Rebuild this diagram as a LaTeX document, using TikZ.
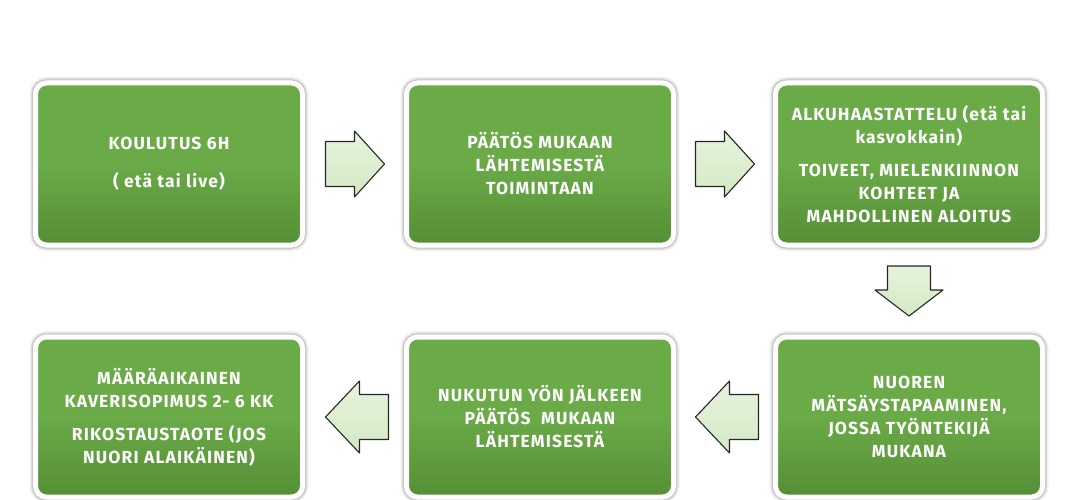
\documentclass[tikz,border=0pt]{standalone}
\usepackage{fontspec}
\setmainfont{Fira Sans}
\usetikzlibrary{calc}
\definecolor{boxgreen}{HTML}{6AAA47}
\definecolor{boxgreendark}{HTML}{558F36}
\definecolor{arrowfill}{HTML}{D3E9C4}
\definecolor{arrowlight}{HTML}{E6F3DD}
\tikzset{
  stepbox/.style={
    draw=white, line width=5pt, rounded corners=11pt,
    top color=boxgreen, bottom color=boxgreendark, middle color=boxgreen,
    minimum width=267pt, minimum height=162pt, inner sep=0pt,
    text=white, align=center,
    font=\fontsize{17.5}{23}\selectfont\bfseries\addfontfeature{LetterSpace=6.5},
    preaction={draw=black!6, line width=12pt},
    preaction={draw=black!14, line width=9pt},
    preaction={draw=black!22, line width=7pt}
  },
  blockarrow/.style={
    draw=black!85, line width=1.1pt, line join=round,
    top color=arrowlight, bottom color=arrowfill
  }
}
\begin{document}
\begin{tikzpicture}[x=1pt,y=-1pt]
\useasboundingbox (0,0) rectangle (1090,500);

% top row
\node[stepbox] (b1) at (169,164) {KOULUTUS 6H\\[15pt]( etä tai live)};
\node[stepbox] (b2) at (540,164) {PÄÄTÖS MUKAAN\\LÄHTEMISESTÄ\\TOIMINTAAN};
\node[stepbox] (b3) at (909,164) {ALKUHAASTATTELU (etä tai\\kasvokkain)\\[10pt]TOIVEET, MIELENKIINNON\\KOHTEET JA\\MAHDOLLINEN ALOITUS};

% bottom row
\node[stepbox, minimum height=160pt] (b4) at (169,417) {MÄÄRÄAIKAINEN\\KAVERISOPIMUS 2- 6 KK\\[10pt]RIKOSTAUSTAOTE (JOS\\NUORI ALAIKÄINEN)};
\node[stepbox, minimum height=160pt] (b5) at (540,417) {NUKUTUN YÖN JÄLKEEN\\PÄÄTÖS\ \ MUKAAN\\LÄHTEMISESTÄ};
\node[stepbox, minimum height=160pt] (b6) at (909,417) {NUOREN\\MÄTSÄYSTAPAAMINEN,\\JOSSA TYÖNTEKIJÄ\\MUKANA};

% arrow anchor points (midway between boxes)
\coordinate (a1) at ($(b1.east)!0.5!(b2.west)$);
\coordinate (a2) at ($(b2.east)!0.5!(b3.west)$);
\coordinate (a3) at ($(b3.south)!0.5!(b6.north)$);
\coordinate (a4) at ($(b6.west)!0.5!(b5.east)+(3,0)$);
\coordinate (a5) at ($(b5.west)!0.5!(b4.east)+(3,0)$);

% right arrows
\draw[blockarrow, shift={(a1)}] (-29,-22.5) -- (0,-22.5) -- (0,-33) -- (30,0) -- (0,33) -- (0,22.5) -- (-29,22.5) -- cycle;
\draw[blockarrow, shift={(a2)}] (-29,-22.5) -- (0,-22.5) -- (0,-33) -- (30,0) -- (0,33) -- (0,22.5) -- (-29,22.5) -- cycle;
% down arrow
\draw[blockarrow, shift={(a3)}] (-21.5,-25) -- (21.5,-25) -- (21.5,-1) -- (34,-1) -- (0,25) -- (-34,-1) -- (-21.5,-1) -- cycle;
% left arrows
\draw[blockarrow, shift={(a4)}] (31,-22.5) -- (2,-22.5) -- (2,-36) -- (-32,0) -- (2,36) -- (2,22.5) -- (31,22.5) -- cycle;
\draw[blockarrow, shift={(a5)}] (31,-22.5) -- (2,-22.5) -- (2,-36) -- (-32,0) -- (2,36) -- (2,22.5) -- (31,22.5) -- cycle;
\end{tikzpicture}
\end{document}
